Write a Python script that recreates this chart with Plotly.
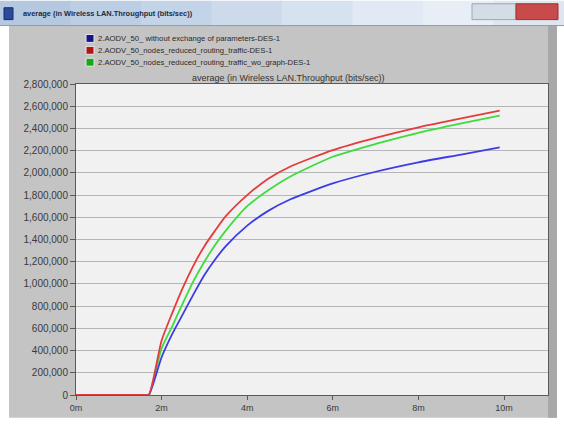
import plotly.graph_objects as go

# ---- data ----
time_min = [0, 1.6, 1.7, 2.0, 2.25, 2.5, 2.75, 3.0, 3.25, 3.5, 4.0, 4.5, 5.0, 6.0, 7.0, 8.0, 9.0, 9.9]
thr_without_exchange = [0, 0, 0, 340000, 550000, 730000, 910000, 1080000, 1220000, 1340000, 1525000,
                        1660000, 1760000, 1905000, 2010000, 2095000, 2165000, 2229000]
thr_reduced_routing = [0, 0, 0, 490000, 740000, 970000, 1170000, 1340000, 1480000, 1610000, 1800000,
                       1950000, 2055000, 2205000, 2315000, 2410000, 2490000, 2560000]
thr_reduced_wo_graph = [0, 0, 0, 420000, 620000, 830000, 1030000, 1200000, 1350000, 1480000, 1700000,
                        1845000, 1965000, 2145000, 2260000, 2360000, 2445000, 2515000]

series_names = [
    "2.AODV_50_ without exchange of parameters-DES-1",
    "2.AODV_50_nodes_reduced_routing_traffic-DES-1",
    "2.AODV_50_nodes_reduced_routing_traffic_wo_graph-DES-1",
]
window_title = "average (in Wireless LAN.Throughput (bits/sec))"
plot_title = "average (in Wireless LAN.Throughput (bits/sec))"
x_tick_vals = [0, 2, 4, 6, 8, 10]
x_tick_text = ["0m", "2m", "4m", "6m", "8m", "10m"]
y_tick_vals = list(range(0, 2800001, 200000))

# ---- layout helpers (pixel -> paper) ----
W, H = 564, 425
L, R, T, B = 76, 16, 84, 27
PW, PH = W - L - R, H - T - B


def px(x):
    return (x - L) / PW


def py(y):
    return (H - B - y) / PH


FONT = "Liberation Sans"
line_colors = ["#3c3ce6", "#e23c3c", "#3cdc3c"]
legend_colors = ["#14148c", "#b41414", "#14aa14"]
series = [thr_without_exchange, thr_reduced_routing, thr_reduced_wo_graph]

fig = go.Figure()
# draw green, then blue, then red on top
for idx in [2, 0, 1]:
    fig.add_trace(go.Scatter(
        x=time_min, y=series[idx], mode="lines", name=series_names[idx],
        line=dict(color=line_colors[idx], width=1.8, shape="spline", smoothing=0.6),
        showlegend=False, hoverinfo="skip"))

shapes = []
# window outer body
shapes.append(dict(type="rect", xref="paper", yref="paper", x0=px(0), x1=px(564), y0=py(425), y1=py(0),
                   fillcolor="#ffffff", line=dict(width=0), layer="below"))
shapes.append(dict(type="rect", xref="paper", yref="paper", x0=px(9), x1=px(557), y0=py(421), y1=py(25),
                   fillcolor="#c4c4c4", line=dict(width=0), layer="below"))
# right dark border strip
shapes.append(dict(type="rect", xref="paper", yref="paper", x0=px(548), x1=px(557), y0=py(421), y1=py(25),
                   fillcolor="#a8a8a8", line=dict(width=0), layer="below"))
# title bar gradient
grad = ["#b4c8e0", "#bccee4", "#c4d4e8", "#ccdaec", "#d6e2f0", "#e0e9f4", "#e8eef6", "#dfe6ef"]
seg = 564 / len(grad)
for i, c in enumerate(grad):
    shapes.append(dict(type="rect", xref="paper", yref="paper", x0=px(i * seg), x1=px((i + 1) * seg + 1),
                       y0=py(25), y1=py(0), fillcolor=c, line=dict(width=0), layer="below"))
shapes.append(dict(type="line", xref="paper", yref="paper", x0=px(0), x1=px(564), y0=py(25), y1=py(25),
                   line=dict(color="#8a9ab0", width=1), layer="below"))
# title bar icon
shapes.append(dict(type="rect", xref="paper", yref="paper", x0=px(4), x1=px(13), y0=py(19), y1=py(7),
                   fillcolor="#2a4a9a", line=dict(color="#1a2a6a", width=1), layer="below"))
# window buttons
shapes.append(dict(type="rect", xref="paper", yref="paper", x0=px(472), x1=px(516), y0=py(19), y1=py(3),
                   fillcolor="#d4dce6", line=dict(color="#9aa6b6", width=1), layer="below"))
shapes.append(dict(type="rect", xref="paper", yref="paper", x0=px(516), x1=px(558), y0=py(19), y1=py(3),
                   fillcolor="#c84a4a", line=dict(color="#9a3030", width=1), layer="below"))
# plot area background
shapes.append(dict(type="rect", xref="paper", yref="paper", x0=0, x1=1, y0=0, y1=1,
                   fillcolor="#f1f1f1", line=dict(width=0), layer="below"))

annotations = []
annotations.append(dict(text="<b>" + window_title + "</b>", xref="paper", yref="paper",
                        x=px(21), y=py(13), xanchor="left", yanchor="middle", showarrow=False,
                        font=dict(family=FONT, size=7.4, color="#1e2a44")))
annotations.append(dict(text=plot_title, xref="paper", yref="paper",
                        x=px(288), y=py(78), xanchor="center", yanchor="middle", showarrow=False,
                        font=dict(family=FONT, size=9, color="#333333")))

# legend (compact, as in the reference)
for i, name in enumerate(series_names):
    yc = 38 + 12 * i
    shapes.append(dict(type="rect", xref="paper", yref="paper", x0=px(86), x1=px(94),
                       y0=py(yc + 4), y1=py(yc - 4), fillcolor=legend_colors[i],
                       line=dict(color="#e8e8e8", width=1), layer="above"))
    annotations.append(dict(text=name, xref="paper", yref="paper", x=px(96), y=py(yc),
                            xanchor="left", yanchor="middle", showarrow=False,
                            font=dict(family=FONT, size=7.7, color="#2a2a2a")))

fig.update_layout(
    width=W, height=H,
    margin=dict(l=L, r=R, t=T, b=B, pad=0),
    paper_bgcolor="#ffffff",
    plot_bgcolor="rgba(0,0,0,0)",
    shapes=shapes,
    annotations=annotations,
    showlegend=False,
    xaxis=dict(range=[0, (548 - L) / 42.8], tickvals=x_tick_vals, ticktext=x_tick_text,
               showgrid=False, zeroline=False, showline=True, mirror=True,
               linecolor="#5a5a5a", linewidth=1, ticks="outside", ticklen=4,
               tickcolor="#5a5a5a", tickfont=dict(family=FONT, size=9, color="#3a3a3a")),
    yaxis=dict(range=[0, 2800000], tickvals=y_tick_vals, tickformat=",d",
               showgrid=True, gridcolor="#b6b6b6", gridwidth=1, zeroline=False,
               showline=True, mirror=True, linecolor="#5a5a5a", linewidth=1,
               ticks="outside", ticklen=5, tickcolor="#5a5a5a",
               tickfont=dict(family=FONT, size=10, color="#3a3a3a")),
)

fig.write_html("out.html", config={"displayModeBar": False},
               post_script="document.body.style.margin='0';")
